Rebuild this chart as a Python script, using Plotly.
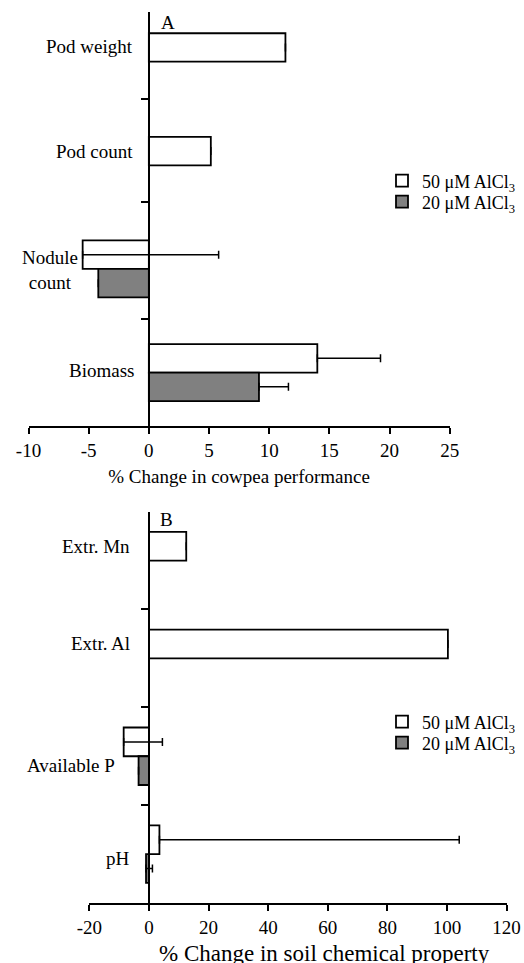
import plotly.graph_objects as go

# ---------------- data ----------------
perf_categories = ["Pod weight", "Pod count", "Nodule count", "Biomass"]
perf_50 = [11.35, 5.15, -5.5, 14.0]
perf_50_err = [0, 0, 11.3, 5.25]
perf_20 = [None, None, -4.2, 9.15]
perf_20_err = [0, 0, 0, 2.45]

soil_categories = ["Extr. Mn", "Extr. Al", "Available P", "pH"]
soil_50 = [12.5, 100.3, -8.5, 3.5]
soil_50_err = [0, 0, 13.0, 100.6]
soil_20 = [None, None, -3.5, -1.0]
soil_20_err = [0, 0, 0, 2.15]

series_names = ["50 \u03bcM AlCl<sub>3</sub>", "20 \u03bcM AlCl<sub>3</sub>"]
perf_xticks = [-10, -5, 0, 5, 10, 15, 20, 25]
soil_xticks = [-20, 0, 20, 40, 60, 80, 100, 120]
perf_title = "% Change in cowpea performance"
soil_title = "% Change in soil chemical property"

# ---------------- style ----------------
W, H = 524, 963
FONT = "Liberation Serif, Times New Roman, serif"
FS = 19
WHITE, GRAY = "#ffffff", "#808080"

def px_x(p):
    return p / W

def px_y(p):
    return 1 - p / H

fig = go.Figure()

w_top = 0.275
w_bot = 0.294

def add_pair(cats, v50, e50, v20, e20, yax, xax, width, legs):
    fig.add_trace(go.Bar(
        y=cats, x=v50, orientation="h", name=series_names[0],
        width=width, offset=-width,
        marker=dict(color=WHITE, line=dict(color="black", width=1.8)),
        error_x=dict(type="data", symmetric=False, array=e50,
                     arrayminus=[0] * len(e50), color="black",
                     thickness=1.5, width=4),
        xaxis=xax, yaxis=yax, legend=legs[0]))
    fig.add_trace(go.Bar(
        y=cats, x=v20, orientation="h", name=series_names[1],
        width=width, offset=0,
        marker=dict(color=GRAY, line=dict(color="black", width=1.8)),
        error_x=dict(type="data", symmetric=False, array=e20,
                     arrayminus=[0] * len(e20), color="black",
                     thickness=1.5, width=4),
        xaxis=xax, yaxis=yax, legend=legs[1]))

add_pair(perf_categories, perf_50, perf_50_err, perf_20, perf_20_err,
         "y", "x", w_top, ("legend", "legend2"))
add_pair(soil_categories, soil_50, soil_50_err, soil_20, soil_20_err,
         "y2", "x2", w_bot, ("legend3", "legend4"))

axis_font = dict(family=FONT, size=FS, color="black")

xcommon = dict(showline=True, linewidth=2, linecolor="black",
               ticks="outside", ticklen=6, tickwidth=2, tickcolor="black",
               showgrid=False, zeroline=False, tickfont=axis_font,
               tickmode="array", automargin=False)
ycommon = dict(type="category", showline=True, linewidth=2, linecolor="black",
               ticks="outside", ticklen=7, tickwidth=2, tickcolor="black",
               showgrid=False, zeroline=False, showticklabels=False,
               anchor="free", position=px_x(149), tickmode="array",
               automargin=False)

def leg(ypx):
    return dict(x=px_x(382), y=px_y(ypx), xanchor="left", yanchor="middle",
                bgcolor="rgba(0,0,0,0)", font=dict(family=FONT, size=18),
                itemclick=False)

fig.update_layout(
    width=W, height=H,
    margin=dict(l=0, r=0, t=0, b=0, autoexpand=False),
    paper_bgcolor="white", plot_bgcolor="white",
    font=axis_font,
    barmode="overlay",
    showlegend=True,
    xaxis=dict(**xcommon, domain=[px_x(28.5), px_x(449.7)], range=[-10, 25],
               tickvals=perf_xticks, ticktext=[str(v) for v in perf_xticks],
               anchor="y",
               title=dict(text=perf_title, font=axis_font, standoff=10)),
    yaxis=dict(**ycommon, domain=[px_y(426), px_y(12.3)],
               categoryarray=perf_categories, range=[3.516, -0.477],
               tickvals=[0.363, 1.351, 2.486]),
    xaxis2=dict(**xcommon, domain=[px_x(89.4), px_x(506.6)], range=[-20, 120],
                tickvals=soil_xticks, ticktext=[str(v) for v in soil_xticks],
                anchor="y2"),
    yaxis2=dict(**ycommon, domain=[px_y(903), px_y(511.7)],
                categoryarray=soil_categories, range=[3.5, -0.5],
                tickvals=[0.49, 1.5, 2.5]),
    legend=leg(181),
    legend2=leg(202),
    legend3=leg(722),
    legend4=leg(743),
)

# bottom axis title (wider lettering, offset as in the original)
fig.add_annotation(text=soil_title, xref="paper", yref="paper",
                   x=px_x(324.5), y=px_y(953), xanchor="center",
                   yanchor="middle", showarrow=False,
                   font=dict(family=FONT, size=23, color="black"))

# category labels (placed as in the original, manual text boxes)
top_label_pos = [(-0.145, 135, "right"), (0.869, 135, "right"),
                 (2.007, 50, "center"), (2.976, 136, "right")]
bot_label_pos = [(-0.147, 132, "right"), (0.847, 132, "right"),
                 (2.096, 117, "right"), (3.04, 132, "right")]

for cat, (yy, xx, anc) in zip(perf_categories, top_label_pos):
    txt = cat.replace(" ", "<br>") if anc == "center" else cat
    fig.add_annotation(text=txt, xref="paper", yref="y", x=px_x(xx), y=yy,
                       xanchor=anc, yanchor="middle", align="center",
                       showarrow=False, font=axis_font)
for cat, (yy, xx, anc) in zip(soil_categories, bot_label_pos):
    fig.add_annotation(text=cat, xref="paper", yref="y2", x=px_x(xx), y=yy,
                       xanchor=anc, yanchor="middle", align="center",
                       showarrow=False, font=axis_font)

fig.add_annotation(text="A", xref="paper", yref="paper", x=px_x(168),
                   y=px_y(22.5), xanchor="center", yanchor="middle",
                   showarrow=False, font=axis_font)
fig.add_annotation(text="B", xref="paper", yref="paper", x=px_x(166.7),
                   y=px_y(519), xanchor="center", yanchor="middle",
                   showarrow=False, font=axis_font)

fig.write_html("out.html",
               config={"displayModeBar": False},
               post_script="document.body.style.margin='0';"
                           "document.body.style.padding='0';")
